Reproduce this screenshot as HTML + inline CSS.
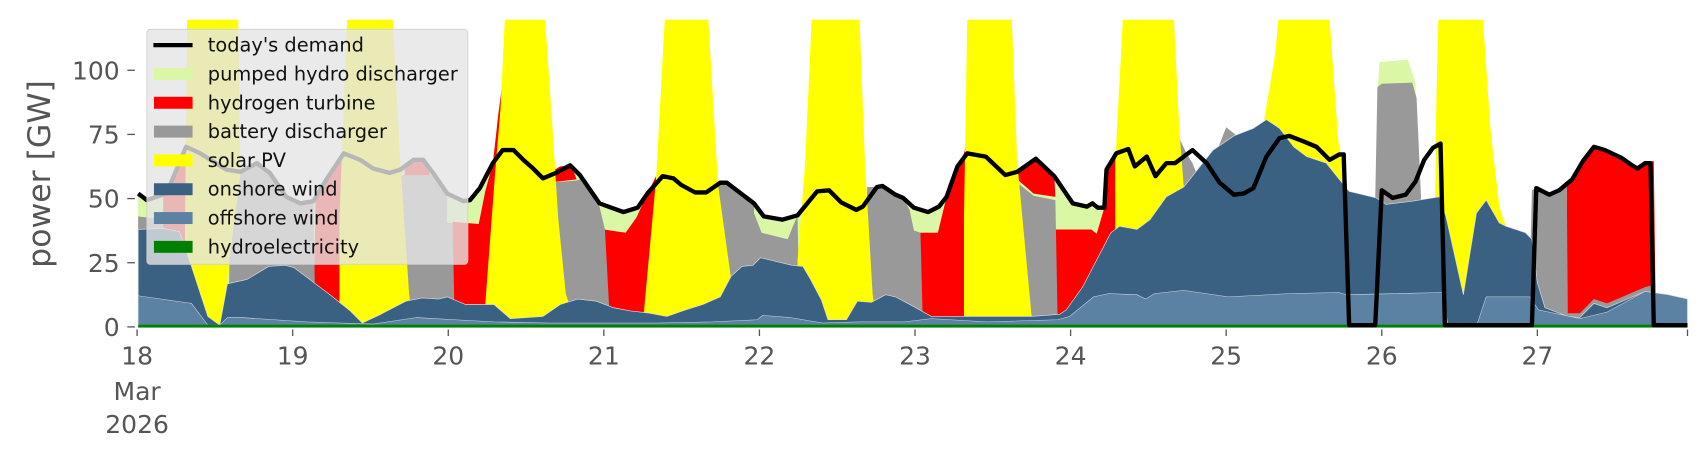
<!DOCTYPE html>
<html><head><meta charset="utf-8"><style>html,body{margin:0;padding:0;background:#fff}svg{display:block}</style></head>
<body>
<svg width="1706" height="460" viewBox="0 0 1568 423" preserveAspectRatio="none" xmlns="http://www.w3.org/2000/svg">
<defs><clipPath id="pa"><rect x="126" y="18" width="1425" height="285"/></clipPath></defs>
<rect width="1568" height="423" fill="#fff"/>
<g clip-path="url(#pa)">
<polygon fill="#daf7a6" points="127,301 127,178 135,184 153,178 171,135 184,141 208,156 221,158 236,150 248,159 263,181 276,187 288,185 300,165 316,141 331,147 343,155 358,159 368,156 380,147 389,147 398,159 411,178 426,185 432,184 441,173 453,150 462,138 472,138 481,147 490,155 499,164 511,159 524,152 533,161 551,187 573,195 586,191 595,178 609,162 619,164 626,170 639,177 649,177 662,168 668,168 693,187 702,199 719,202 733,198 751,176 762,175 773,186 787,193 793,190 806,172 811,171 823,179 830,182 840,191 853,195 863,190 870,181 880,153 889,141 906,144 924,161 935,158 952,146 969,162 986,187 999,190 1004,187 1009,191 1015,191 1017,156 1026,141 1037,137 1043,153 1054,144 1062,162 1072,150 1080,150 1080,301"/>
<polygon fill="#daf7a6" points="1266,301 1266,85 1268,57 1294,55 1301,76 1302,301"/>
<g fill="#ff0000">
<polygon points="150,301 150,178 155,170 165,150 172,135 172,301"/>
<polygon points="288,301 290,186 300,165 310,150 318,141 320,301"/>
<polygon points="370,301 372,156 380,147 389,147 395,155 395,301"/>
<polygon points="414,301 416,204 440,206 446,176 453,150 458,105 464,60 468,60 468,301"/>
<polygon points="503,168 503,160 515,153 525,152 530,165"/>
<polygon points="554,301 555,211 575,214 585,200 595,178 603,162 603,301"/>
<polygon points="846,301 846,214 862,214 870,181 880,153 886,141 889,130 889,301"/>
<polygon points="932,158 952,146 969,162 970,181 950,178 935,165"/>
<polygon points="970,301 970,211 1003,211 1008,215 1015,191 1017,156 1026,141 1031,138 1031,301"/>
<polygon points="1440,301 1440,170 1445,165 1455,148 1465,135 1475,138 1490,145 1500,152 1505,155 1512,150 1520,148 1522,301"/>
</g>
<g fill="#999999">
<polygon points="127,301 127,199 150,202 150,301"/>
<polygon points="210,301 212,160 221,158 236,150 248,159 263,181 276,187 288,186 290,301"/>
<polygon points="358,301 360,159 368,161 398,161 411,178 411,205 416,205 418,301"/>
<polygon points="499,301 499,164 503,168 530,166 533,165 551,190 556,211 560,285 560,301"/>
<polygon points="645,301 645,177 649,177 662,168 668,168 693,187 693,196 700,214 724,220 728,210 733,198 735,301"/>
<polygon points="795,301 797,172 806,172 811,171 823,179 830,182 836,193 840,212 846,214 848,290 850,301"/>
<polygon points="924,301 924,161 932,160 935,168 950,180 970,184 972,290 976,301"/>
<polygon points="1080,301 1083,125 1090,140 1096,150 1100,160 1100,301"/>
<polygon points="1105,301 1118,140 1127,117 1137,125 1140,301"/>
<polygon points="1226,301 1228,150 1235,145 1238,170 1238,301"/>
<polygon points="1262,301 1264,182 1266,80 1270,77 1298,76 1302,90 1306,180 1310,301"/>
<polygon points="1405,301 1408,175 1412,173 1424,179 1433,175 1440,170 1441,288 1452,288 1465,275 1477,279 1512,264 1520,262 1522,301"/>
</g>
<g fill="#ffff00">
<polygon points="170,301 170,211 172,18 219,18 221,160 212,230 205,301"/>
<polygon points="312,301 312,200 319,18 361,18 368,150 376,270 380,301"/>
<polygon points="446,301 446,280 455,160 460,100 464,18 501,18 508,120 513,200 520,270 530,301"/>
<polygon points="590,301 592,285 603,165 611,18 651,18 660,170 672,257 676,301"/>
<polygon points="733,301 733,240 740,150 746,18 790,18 795,150 802,270 806,301"/>
<polygon points="886,301 886,200 889,18 930,18 935,150 948,289 950,301"/>
<polygon points="1025,301 1025,150 1032,18 1079,18 1084,120 1088,172 1090,301"/>
<polygon points="1160,301 1162,110 1172,50 1175,18 1222,18 1230,129 1236,165 1240,180 1240,301"/>
<polygon points="1318,301 1320,100 1322,18 1363,18 1370,120 1378,190 1384,208 1384,301"/>
</g>
<polygon fill="#3b6182" stroke="#dddddd" stroke-width="0.6" points="127,301 127,211 150,210 165,213 176,245 191,291 202,299 209,261 227,257 247,245 262,244 270,246 302,270 322,286 333,297 348,290 373,277 388,274 403,275 411,273 428,280 454,280 469,293 499,291 515,280 531,275 548,277 564,283 580,286 597,288 613,291 630,285 646,280 662,273 672,254 682,245 692,244 699,237 728,244 738,245 745,257 755,276 761,294 778,294 788,277 801,278 814,271 823,273 840,282 856,291 876,291 909,291 948,291 974,289 980,285 995,264 1008,239 1021,214 1029,208 1045,211 1057,202 1072,181 1088,172 1103,153 1115,138 1134,125 1152,118 1164,110 1176,118 1189,135 1201,144 1219,150 1231,165 1240,176 1265,182 1274,188 1298,185 1323,181 1329,199 1345,271 1357,196 1366,184 1378,205 1384,208 1402,214 1408,220 1413,260 1420,283 1441,291 1452,292 1465,279 1477,283 1512,268 1533,271 1551,275 1551,301"/>
<polygon fill="#5b81a3" stroke="#cfd8e0" stroke-width="0.5" points="127,301 127,272 176,279 191,299 202,299 209,292 222,292 252,294 282,296 313,297 343,298 383,292 418,294 454,296 504,297 555,297 605,297 655,296 696,294 701,290 726,292 756,297 790,296 831,296 856,293 907,296 972,294 983,291 1005,273 1019,270 1045,271 1053,275 1061,270 1088,267 1129,273 1185,270 1230,269 1238,271 1326,269 1331,300 1357,300 1366,273 1406,273 1414,285 1452,293 1477,287 1512,268 1533,271 1551,275 1551,301"/>
<rect x="127" y="298.6" width="1424" height="2.6" fill="#008000"/>
<polyline fill="none" stroke="#000" stroke-width="4" stroke-linejoin="round" points="127,178 135,184 153,178 171,135 184,141 208,156 221,158 236,150 248,159 263,181 276,187 288,185 300,165 316,141 331,147 343,155 358,159 368,156 380,147 389,147 398,159 411,178 426,185 432,184 441,173 453,150 462,138 472,138 481,147 490,155 499,164 511,159 524,152 533,161 551,187 573,195 586,191 595,178 609,162 619,164 626,170 639,177 649,177 662,168 668,168 693,187 702,199 719,202 733,198 751,176 762,175 773,186 787,193 793,190 806,172 811,171 823,179 830,182 840,191 853,195 863,190 870,181 880,153 889,141 906,144 924,161 935,158 952,146 969,162 986,187 999,190 1004,187 1009,191 1015,191 1017,156 1026,141 1037,137 1043,153 1054,144 1062,162 1072,150 1080,150 1096,138 1109,150 1121,168 1134,179 1143,178 1152,173 1164,144 1176,127 1185,125 1198,130 1210,135 1222,147 1231,142 1235,142 1240,299 1264,299 1270,175 1280,182 1292,179 1301,167 1309,147 1317,136 1324,132 1328,299 1408,299 1412,173 1424,179 1433,175 1445,165 1455,148 1465,135 1475,138 1490,145 1500,152 1505,155 1512,150 1517,150 1520,299 1551,299"/>
</g>
<g stroke="#555" stroke-width="1.2">
<line x1="117" y1="300.6" x2="124" y2="300.6"/><line x1="117" y1="241.6" x2="124" y2="241.6"/><line x1="117" y1="182.6" x2="124" y2="182.6"/><line x1="117" y1="123.6" x2="124" y2="123.6"/><line x1="117" y1="64.6" x2="124" y2="64.6"/>
<line x1="126" y1="303" x2="126" y2="309"/><line x1="269" y1="303" x2="269" y2="309"/><line x1="412" y1="303" x2="412" y2="309"/><line x1="555" y1="303" x2="555" y2="309"/><line x1="698" y1="303" x2="698" y2="309"/><line x1="841" y1="303" x2="841" y2="309"/><line x1="984" y1="303" x2="984" y2="309"/><line x1="1127" y1="303" x2="1127" y2="309"/><line x1="1270" y1="303" x2="1270" y2="309"/><line x1="1413" y1="303" x2="1413" y2="309"/><line x1="1551" y1="303" x2="1551" y2="309"/>
</g>
<g font-family="DejaVu Sans, Liberation Sans, sans-serif" font-size="23" fill="#555">
<g text-anchor="end">
<text x="110" y="309">0</text><text x="110" y="250">25</text><text x="110" y="191">50</text><text x="110" y="132">75</text><text x="110" y="73">100</text>
</g>
<g text-anchor="middle">
<text x="126" y="335">18</text><text x="126" y="368">Mar</text><text x="126" y="398">2026</text>
<text x="269" y="335">19</text><text x="412" y="335">20</text><text x="555" y="335">21</text><text x="698" y="335">22</text><text x="841" y="335">23</text><text x="984" y="335">24</text><text x="1127" y="335">25</text><text x="1270" y="335">26</text><text x="1413" y="335">27</text>
</g>
<text x="0" y="0" font-size="29" text-anchor="middle" transform="translate(46,160) rotate(-90)">power [GW]</text>
</g>
<rect x="135" y="27" width="295" height="216" rx="3" fill="#e5e5e5" fill-opacity="0.8" stroke="#d0d0d0" stroke-width="0.8"/>
<line x1="141" y1="41.5" x2="177" y2="41.5" stroke="#000" stroke-width="4"/>
<rect x="141.5" y="62.5" width="35.5" height="11" fill="#daf7a6"/>
<rect x="141.5" y="89" width="35.5" height="11" fill="#ff0000"/>
<rect x="141.5" y="115.5" width="35.5" height="11" fill="#999999"/>
<rect x="141.5" y="142" width="35.5" height="11" fill="#ffff00"/>
<rect x="141.5" y="168.5" width="35.5" height="11" fill="#3b6182"/>
<rect x="141.5" y="195" width="35.5" height="11" fill="#5b81a3"/>
<rect x="141.5" y="221.5" width="35.5" height="11" fill="#008000"/>
<g font-family="DejaVu Sans, Liberation Sans, sans-serif" font-size="17.8" fill="#111">
<text x="191" y="47.5">today's demand</text>
<text x="191" y="74">pumped hydro discharger</text>
<text x="191" y="100.5">hydrogen turbine</text>
<text x="191" y="127">battery discharger</text>
<text x="191" y="153.5">solar PV</text>
<text x="191" y="180">onshore wind</text>
<text x="191" y="206.5">offshore wind</text>
<text x="191" y="233">hydroelectricity</text>
</g>
</svg>
</body></html>
